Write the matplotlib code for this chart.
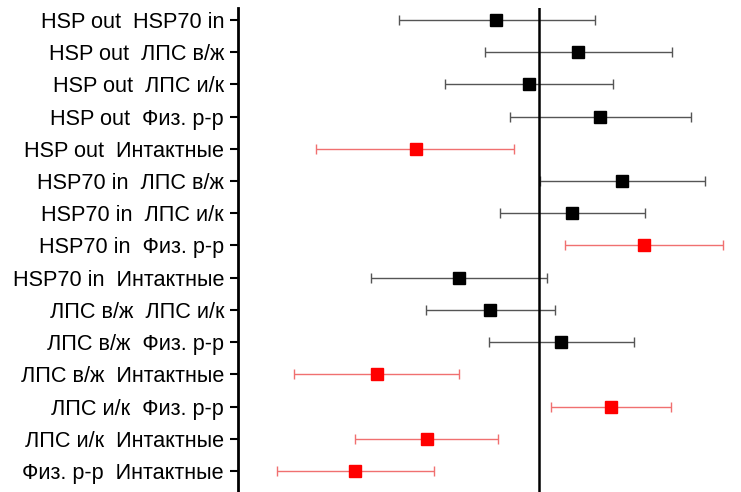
import numpy as np
import matplotlib.pyplot as plt

labels = ['HSP out  HSP70 in', 'HSP out  ЛПС в/ж', 'HSP out  ЛПС и/к', 'HSP out  Физ. р-р',
          'HSP out  Интактные', 'HSP70 in  ЛПС в/ж', 'HSP70 in  ЛПС и/к', 'HSP70 in  Физ. р-р',
          'HSP70 in  Интактные', 'ЛПС в/ж  ЛПС и/к', 'ЛПС в/ж  Физ. р-р', 'ЛПС в/ж  Интактные',
          'ЛПС и/к  Физ. р-р', 'ЛПС и/к  Интактные', 'Физ. р-р  Интактные']
mean = [-0.43, 0.39, -0.10, 0.61, -1.23, 0.82, 0.33, 1.04, -0.80, -0.49, 0.22, -1.62, 0.72, -1.12, -1.83]
low = [-1.40, -0.54, -0.94, -0.29, -2.22, 0.01, -0.39, 0.26, -1.68, -1.13, -0.50, -2.44, 0.12, -1.83, -2.61]
high = [0.56, 1.32, 0.74, 1.51, -0.25, 1.65, 1.05, 1.83, 0.08, 0.16, 0.94, -0.80, 1.31, -0.41, -1.05]
signif = [False, False, False, False, True, False, False, True, False, False, False, True, True, True, True]

plt.rcParams['font.family'] = ['Liberation Sans', 'DejaVu Sans']

fig = plt.figure(figsize=(7.41, 4.92), dpi=100)
ax = fig.add_axes([238 / 741, 0, 1 - 238 / 741, 484 / 492])

y = np.arange(len(labels))
for i in range(len(labels)):
    if signif[i]:
        lc, mc = '#f07070', '#ff0000'
    else:
        lc, mc = '#555555', 'black'
    ax.errorbar(mean[i], y[i], xerr=[[mean[i] - low[i]], [high[i] - mean[i]]],
                fmt='none', ecolor=lc, elinewidth=1, capsize=3.5, capthick=1)
    ax.plot(mean[i], y[i], 's', color=mc, markersize=8, zorder=3)

ax.axvline(0, color='black', lw=1.8)
ax.set_xlim(-3.0, 2.01)
ax.set_ylim(14.65, -0.37)
ax.set_yticks(y)
ax.set_yticklabels(labels, fontsize=15.6)
ax.tick_params(axis='y', length=6, width=1.5, pad=4)
ax.set_xticks([])
for s in ['top', 'right', 'bottom']:
    ax.spines[s].set_visible(False)
ax.spines['left'].set_linewidth(2)

fig.savefig('out.png', dpi=100)
